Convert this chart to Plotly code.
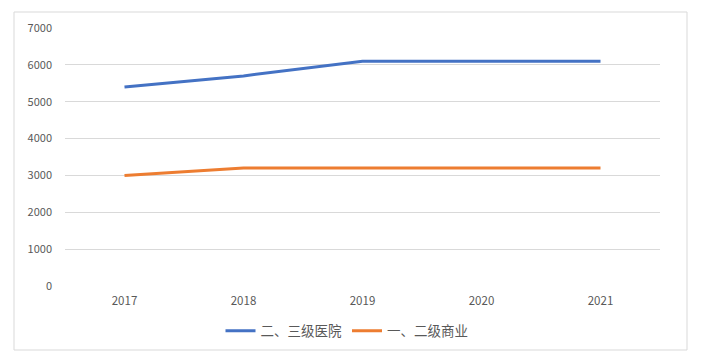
import plotly.graph_objects as go

years = ["2017", "2018", "2019", "2020", "2021"]
hospital = [5400, 5700, 6100, 6100, 6100]
commerce = [3000, 3200, 3200, 3200, 3200]
series_names = ["二、三级医院", "一、二级商业"]

OFF = 8  # page body margin
W, H = 705 - OFF, 359 - OFF
L, T = 65 - OFF, 28 - OFF
pw, ph = 595, 258
R, B = W - L - pw, H - T - ph

fig = go.Figure()
fig.add_trace(go.Scatter(x=years, y=hospital, mode="lines", name=series_names[0],
                         line=dict(color="#4472C4", width=3)))
fig.add_trace(go.Scatter(x=years, y=commerce, mode="lines", name=series_names[1],
                         line=dict(color="#ED7D31", width=3)))

def px_x(v):
    return (v - OFF - L) / pw

def px_y(v):
    return (T + ph - (v - OFF)) / ph

fig.add_shape(type="rect", xref="paper", yref="paper",
              x0=px_x(14), x1=px_x(687), y0=px_y(350), y1=px_y(12),
              line=dict(color="#d9d9d9", width=1), fillcolor="rgba(0,0,0,0)", layer="below")

fig.update_layout(
    width=W, height=H,
    margin=dict(l=L, r=R, t=T, b=B),
    paper_bgcolor="white", plot_bgcolor="white",
    font=dict(family="Noto Sans CJK SC", size=11, color="#595959"),
    showlegend=True,
    legend=dict(orientation="h", x=px_x(347), xanchor="center", y=px_y(331), yanchor="middle",
                font=dict(size=13.5, color="#595959"), itemwidth=30),
    xaxis=dict(type="category", range=[-0.5, 4.5], showgrid=False, zeroline=False,
               showline=False, ticks="", ticklabelstandoff=6,
               tickfont=dict(size=11.5, color="#595959")),
    yaxis=dict(range=[0, 7000], dtick=1000, showgrid=True, gridcolor="#d9d9d9", gridwidth=1,
               zeroline=False, showline=False, ticks="", ticklabelstandoff=12,
               tickfont=dict(size=11, color="#595959")),
)

fig.write_html("out.html")
